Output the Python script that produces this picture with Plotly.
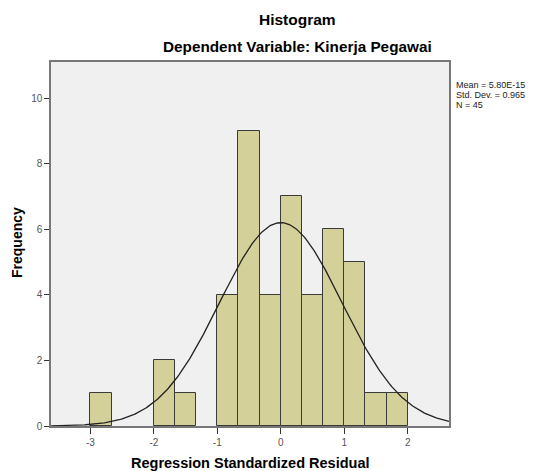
import numpy as np
import plotly.graph_objects as go

bin_left = [-3.0, -2.0, -5/3, -1.0, -2/3, -1/3, 0.0, 1/3, 2/3, 1.0, 4/3, 5/3]
counts = [1, 2, 1, 4, 9, 4, 7, 4, 6, 5, 1, 1]
bin_width = 1/3
mean_val = 5.80e-15
sd_val = 0.965
n_val = 45
x_ticks = [-3, -2, -1, 0, 1, 2]
y_ticks = [0, 2, 4, 6, 8, 10]
stats_lines = [f"Mean = {mean_val:.2E}", f"Std. Dev. = {sd_val}", f"N = {n_val}"]

x_range = [-3.62, 2.65]
y_range = [0, 11.1]

centers = [b + bin_width / 2 for b in bin_left]

xs = np.linspace(x_range[0], x_range[1], 300)
ys = n_val * bin_width * np.exp(-0.5 * ((xs - mean_val) / sd_val) ** 2) / (sd_val * np.sqrt(2 * np.pi))

FONT = "Liberation Sans, Arial, sans-serif"
OFF = 8  # page body margin offset
W, H = 535 - OFF, 471 - OFF
L, T = 51 - OFF, 62 - OFF
R = W - (449 - OFF)
B = H - (426 - OFF)
PW, PH = W - L - R, H - T - B


def px(xp):
    return (xp - OFF - L) / PW


def py(yp):
    return 1 - (yp - OFF - T) / PH


annotations = [
    dict(text="<b>Histogram</b>", xref="paper", yref="paper", x=px(297), y=py(20),
         xanchor="center", yanchor="middle", showarrow=False, font=dict(size=15.5, family=FONT)),
    dict(text="<b>Dependent Variable: Kinerja Pegawai</b>", xref="paper", yref="paper", x=px(297), y=py(47),
         xanchor="center", yanchor="middle", showarrow=False, font=dict(size=15.3, family=FONT)),
    dict(text="<b>Regression Standardized Residual</b>", xref="paper", yref="paper", x=px(251), y=py(463),
         xanchor="center", yanchor="middle", showarrow=False, font=dict(size=14.5, family=FONT)),
    dict(text="<b>Frequency</b>", xref="paper", yref="paper", x=px(17), y=py(243), textangle=-90,
         xanchor="center", yanchor="middle", showarrow=False, font=dict(size=14, family=FONT)),
]
for i, line in enumerate(stats_lines):
    annotations.append(dict(text=line, xref="paper", yref="paper", x=px(454), y=py(85 + 10 * i),
                            xanchor="left", yanchor="middle", showarrow=False,
                            font=dict(size=9, family=FONT, color="#222222")))

fig = go.Figure()
fig.add_trace(go.Bar(x=centers, y=counts, width=bin_width,
                     marker=dict(color="#D4D09A", line=dict(color="#3a3a3a", width=1)),
                     showlegend=False, hoverinfo="x+y"))
fig.add_trace(go.Scatter(x=xs, y=ys, mode="lines", line=dict(color="#222222", width=1.3),
                         showlegend=False, hoverinfo="skip"))

fig.update_layout(
    width=W, height=H,
    margin=dict(l=L, r=R, t=T, b=B, autoexpand=False),
    paper_bgcolor="white", plot_bgcolor="#F0F0F0",
    font=dict(family=FONT, color="#000000"),
    bargap=0,
    xaxis=dict(range=x_range, tickvals=x_ticks, ticktext=[str(v) for v in x_ticks],
               automargin=False,
               showgrid=False, zeroline=False, showline=True, linecolor="#777777", linewidth=1.5,
               mirror=True, ticks="outside", ticklen=6, tickcolor="#333333",
               tickfont=dict(size=10, color="#555555", family=FONT)),
    yaxis=dict(range=y_range, tickvals=y_ticks, ticktext=[str(v) for v in y_ticks],
               automargin=False,
               showgrid=False, zeroline=False, showline=True, linecolor="#777777", linewidth=1.5,
               mirror=True, ticks="outside", ticklen=5, tickcolor="#333333",
               tickfont=dict(size=10, color="#555555", family=FONT)),
    annotations=annotations,
)

fig.write_html("out.html")
